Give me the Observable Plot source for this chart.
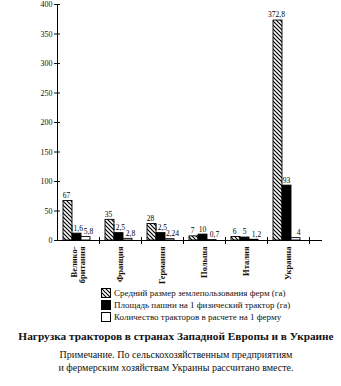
<!DOCTYPE html>
<html>
<head>
<meta charset="utf-8">
<script src="https://cdn.jsdelivr.net/npm/d3@7"></script>
<script src="https://cdn.jsdelivr.net/npm/@observablehq/plot@0.6"></script>
<style>
  html, body { margin: 0; padding: 0; background: #fff; }
  body { width: 341px; height: 386px; overflow: hidden; font-family: "Liberation Serif", "DejaVu Serif", serif; color: #111; }
  #chart svg { display: block; }
  .legend { position: absolute; left: 101px; top: 287px; font-family: "Liberation Serif", serif; font-size: 9px; line-height: 12px; }
  .legend div { display: flex; align-items: center; height: 12px; }
  .legend svg { margin-right: 3px; }
  .title { position: absolute; left: 0; width: 352px; top: 330px; text-align: center; font-weight: bold; font-size: 11.3px; }
  .note { position: absolute; left: 0; width: 352px; top: 349px; text-align: center; font-size: 10px; line-height: 12.5px; }
</style>
</head>
<body>
<svg width="0" height="0" style="position:absolute">
  <defs>
    <pattern id="hatch" patternUnits="userSpaceOnUse" width="4" height="4">
      <rect width="4" height="4" fill="#fff"></rect>
      <path d="M-1,-1 L5,5 M-1,3 L1,5 M3,-1 L5,1" stroke="#000" stroke-width="1.2"></path>
    </pattern>
  </defs>
</svg>
<div id="chart"></div>
<div class="legend" id="legend"></div>
<div class="title">Нагрузка тракторов в странах Западной Европы и в Украине</div>
<div class="note">Примечание. По сельскохозяйственным предприятиям<br>и фермерским хозяйствам Украины рассчитано вместе.</div>
<script>
// ---- data ----
const countries = ["Велико-\nбритания", "Франция", "Германия", "Польша", "Италия", "Украина"];
const seriesNames = [
  "Средний размер землепользования ферм (га)",
  "Площадь пашни на 1 физический трактор (га)",
  "Количество тракторов в расчете на 1 ферму"
];
const farmSize = [67, 35, 28, 7, 6, 372.8];
const arablePerTractor = [11.6, 12.5, 12.5, 10, 5, 93];
const tractorsPerFarm = [5.8, 2.8, 2.24, 0.7, 1.2, 4];
const yTicks = [0, 50, 100, 150, 200, 250, 300, 350, 400];
const seriesFills = ["url(#hatch)", "#000", "#fff"];

const valuesBySeries = [farmSize, arablePerTractor, tractorsPerFarm];
const data = [];
countries.forEach((c, i) => {
  seriesNames.forEach((s, j) => data.push({c, s, j, v: valuesBySeries[j][i]}));
});
const fmt = v => String(v).replace(".", ",");

const H = 285, MT = 4, MB = 45;
const plotH = H - MT - MB;

// legend
const legend = document.getElementById("legend");
seriesNames.forEach((s, j) => {
  const row = document.createElement("div");
  row.innerHTML = `<svg width="10" height="10"><rect x="0.5" y="0.5" width="9" height="9" fill="${seriesFills[j]}" stroke="#000"></rect></svg><span>${s}</span>`;
  legend.appendChild(row);
});

const labelDx = [-1.5, -0.5, 2.5];
const valueText = j => Plot.text(data.filter(d => d.j === j), {
  fx: "c", x: "s", y: "v", text: d => fmt(d.v), dy: -5.5, dx: labelDx[j], fontSize: 7.5, fill: "#000"
});

const chart = Plot.plot({
  width: 341,
  height: H,
  marginLeft: 55,
  marginRight: 18,
  marginTop: MT,
  marginBottom: MB,
  style: {fontFamily: "'Liberation Serif', serif", color: "#111", background: "transparent"},
  fx: {domain: countries, range: [55, 310], padding: 0, label: null},
  x: {domain: seriesNames, paddingInner: 0, paddingOuter: 0.625, align: 0.4, axis: null},
  y: {domain: [0, 400], axis: null},
  color: {domain: seriesNames, range: seriesFills},
  marks: [
    Plot.barY(data, {fx: "c", x: "s", y: "v", fill: "s", stroke: "#000", strokeWidth: 0.9}),
    valueText(0), valueText(1), valueText(2),
    Plot.ruleY([0], {stroke: "#000", strokeWidth: 1}),
    Plot.ruleY([0], {facetAnchor: "right", insetRight: -13, stroke: "#000", strokeWidth: 1}),
    Plot.frame({anchor: "left", facetAnchor: "left", stroke: "#000"}),
    Plot.frame({anchor: "right", insetTop: plotH - 3, insetBottom: -3, stroke: "#000"}),
    Plot.axisY({ticks: yTicks, tickSize: 6, dx: 3, tickPadding: 2, fontSize: 8, tickFormat: d => d, label: null}),
    Plot.axisFx({anchor: "bottom", tickSize: 0, tickRotate: -90, tickPadding: 6, fontSize: 8.5, fontWeight: "bold", lineHeight: 0.95, label: null})
  ]
});
document.getElementById("chart").appendChild(chart);
</script>
</body>
</html>
